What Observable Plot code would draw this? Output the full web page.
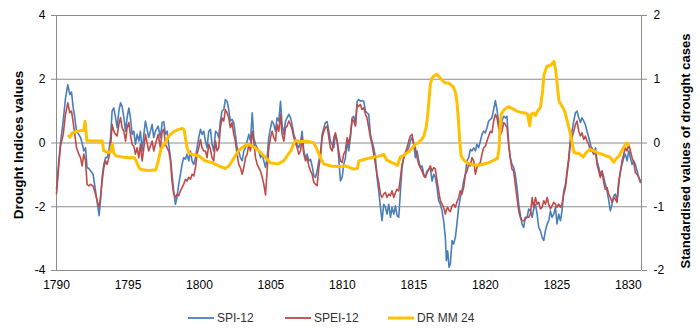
<!DOCTYPE html>
<html><head><meta charset="utf-8">
<script src="https://cdn.jsdelivr.net/npm/d3@7"></script>
<script src="https://cdn.jsdelivr.net/npm/@observablehq/plot@0.6"></script>
<style>
body{margin:0;background:#fff;font-family:"Liberation Sans",Arial,sans-serif;}
#wrap{position:relative;width:700px;height:334px;overflow:hidden;}
#legend{position:absolute;top:310px;left:0;width:700px;height:18px;font-size:12px;color:#333;}
.item{position:absolute;top:0;height:16px;display:flex;align-items:center;}
.item svg{margin-right:3px;}
</style></head><body><div id="wrap"><div id="chart"></div><div id="legend"></div></div>
<script>
const indexYears = [
1790.0,1790.16,1790.28,1790.47,1790.63,1790.79,1790.93,1791.05,1791.17,1791.28,1791.4,1791.56,1791.68,1791.79,1791.91,1792.03,1792.14,1792.26,1792.38,1792.56,1792.73,1792.89,1792.98,1793.08,1793.19,1793.31,1793.43,1793.54,1793.66,1793.78,1793.89,1794.01,1794.13,1794.24,1794.36,1794.48,1794.59,1794.71,1794.83,1794.94,1795.06,1795.17,1795.29,1795.41,1795.52,1795.64,1795.76,1795.87,1795.99,1796.11,
1796.22,1796.45,1796.69,1796.8,1796.92,1797.11,1797.27,1797.39,1797.5,1797.62,1797.74,1797.85,1797.97,1798.08,1798.2,1798.32,1798.43,1798.55,1798.67,1798.78,1798.9,1799.02,1799.13,1799.25,1799.37,1799.48,1799.6,1799.72,1799.83,1799.95,1800.07,1800.18,1800.3,1800.42,1800.53,1800.65,1800.77,1800.88,1801.0,1801.12,1801.23,1801.35,1801.46,1801.58,1801.7,1801.81,1801.93,1802.05,1802.16,1802.28,1802.4,1802.51,1802.63,1802.75,1802.86,
1802.99,1803.1,1803.22,1803.34,1803.45,1803.57,1803.69,1803.8,1803.92,1804.04,1804.15,1804.27,1804.39,1804.5,1804.62,1804.73,1804.85,1804.97,1805.08,1805.2,1805.32,1805.43,1805.55,1805.67,1805.78,1805.9,1806.02,1806.13,1806.25,1806.37,1806.48,1806.6,1806.72,1806.83,1806.95,1807.07,1807.18,1807.3,1807.42,1807.53,1807.65,1807.77,1807.88,1808.0,1808.11,1808.23,1808.35,1808.46,1808.58,1808.7,1808.81,1808.93,1809.05,1809.16,1809.28,1809.4,
1809.51,1809.63,1809.74,1809.86,1809.98,1810.09,1810.21,1810.33,1810.44,1810.56,1810.68,1810.79,1810.91,1811.03,1811.14,1811.26,1811.37,1811.49,1811.61,1811.72,1811.84,1811.96,1812.07,1812.19,1812.31,1812.42,1812.54,1812.66,1812.77,1812.89,1813.01,1813.12,1813.24,1813.36,1813.47,1813.59,1813.71,1813.82,1813.94,1814.06,1814.17,1814.29,1814.4,1814.52,1814.64,1814.75,1814.87,1814.99,1815.1,1815.22,1815.34,1815.45,1815.57,1815.69,1815.8,1815.92,1816.04,1816.15,1816.27,1816.39,1816.5,
1816.62,1816.73,1816.85,1816.97,1817.08,1817.2,1817.27,1817.36,1817.46,1817.55,1817.67,1817.78,1817.9,1818.01,1818.13,1818.25,1818.36,1818.48,1818.6,1818.71,1818.83,1818.95,1819.06,1819.18,1819.3,1819.41,1819.53,1819.65,1819.76,1819.88,1820.0,1820.11,1820.23,1820.35,1820.46,1820.58,1820.7,1820.81,1820.93,1821.05,1821.16,1821.28,1821.4,1821.51,1821.63,1821.74,1821.86,1821.98,1822.09,1822.21,1822.33,1822.44,1822.56,1822.68,1822.79,
1822.92,1823.03,1823.15,1823.27,1823.38,1823.5,1823.62,1823.73,1823.85,1823.97,1824.08,1824.2,1824.32,1824.43,1824.55,1824.66,1824.78,1824.9,1825.01,1825.13,1825.25,1825.36,1825.48,1825.6,1825.71,1825.83,1825.95,1826.06,1826.18,1826.3,1826.41,1826.53,1826.65,1826.76,1826.88,1826.99,1827.11,1827.23,1827.35,1827.46,1827.58,1827.7,1827.81,1827.93,1828.04,1828.16,1828.28,1828.39,1828.51,1828.63,1828.74,1828.86,1828.98,1829.09,1829.21,1829.33,1829.44,1829.56,1829.68,1829.79,1829.91,1830.03,1830.14,1830.26,1830.38,1830.49,1830.61,1830.73,1830.84
];
const spi12 = [
-1.45,-0.56,0,0.7,1.4,1.83,1.52,1.6,1.1,0.8,0.37,0.27,0.17,0,-0.25,-0.15,-0.77,-0.8,-0.87,-0.98,-1.5,-2.0,-2.28,-1.8,-1.08,-0.67,-0.46,-0.46,-0.25,0.17,1.0,1.1,0.8,0.48,1.0,1.26,1.15,0.8,0.37,0.8,1.1,0.8,0.27,0.37,-0.04,0.27,0.06,0.37,-0.25,0.27,
0.69,0.17,0.58,0.17,0.37,0.53,0.17,0.64,0.67,0.27,0.37,-0.04,-0.46,-0.98,-1.5,-1.92,-1.71,-1.29,-0.98,-0.67,-0.46,-0.51,-0.35,-0.56,-0.25,-0.56,-0.67,-0.46,-0.15,0.17,0.43,0.27,0.37,0.06,-0.15,0.37,0.43,-0.04,-0.25,0.37,0.32,0.17,0.69,1.0,1.05,1.36,1.31,1.05,0.69,0.74,0.64,0.27,-0.15,-0.25,-0.46,
-0.56,-0.25,-0.15,0.06,0.27,0.06,0.95,0.17,-0.04,-0.15,-0.25,-0.46,-0.35,-0.56,-0.77,-0.46,0.17,0.48,0.69,0.58,0.37,0.79,0.69,1.31,0.58,0.27,0.69,0.79,0.9,0.79,0.58,0.27,0.11,-0.04,-0.15,0.01,0.37,-0.25,-0.46,-0.35,-0.56,-0.51,-0.72,-1.03,-1.08,-0.88,-0.56,-0.35,0.27,0.48,0.64,0.67,0.37,0.06,-0.04,-0.15,
0.27,0.06,-0.46,-1.19,-1.08,-0.67,-0.46,0.06,-0.25,0.17,0.79,0.84,0.58,1.31,1.36,1.31,1.33,1.31,1.0,0.95,0.9,0.27,0.06,-0.15,-0.46,-1.08,-1.5,-2.02,-2.44,-1.92,-2.02,-2.23,-1.92,-2.33,-2.02,-2.23,-1.97,-2.28,-2.33,-1.5,-0.77,-0.46,-0.35,-0.25,-0.15,0.06,0.17,-0.04,-0.46,-0.25,-0.56,-0.77,-0.72,-0.98,-1.08,-0.88,-0.83,-0.77,-1.19,-0.98,-1.08,
-1.4,-1.81,-1.92,-2.13,-2.44,-2.96,-3.69,-3.38,-3.9,-3.79,-3.06,-3.17,-2.96,-2.54,-2.02,-1.71,-1.5,-1.19,-0.98,-0.56,-0.46,-0.2,-0.25,-0.15,-0.25,-0.04,-0.15,0.06,0.27,0.37,0.32,0.48,0.69,0.74,0.79,1.05,1.33,1.05,0.64,0.43,0.69,0.84,0.79,0.84,-0.04,-0.46,-0.67,-0.77,-0.98,-1.4,-1.92,-2.23,-2.54,-2.65,-2.33,
-2.33,-2.07,-2.13,-2.33,-2.07,-1.92,-2.23,-2.65,-2.75,-2.96,-3.06,-2.75,-2.54,-2.44,-2.13,-2.33,-2.23,-2.02,-2.54,-2.23,-2.44,-2.13,-1.5,-1.29,-0.88,-0.46,0.17,0.37,0.69,0.95,1.0,0.79,0.64,0.79,0.69,0.58,0.37,0.17,-0.04,-0.25,-0.35,-0.15,-0.56,-0.77,-0.98,-0.88,-1.08,-1.29,-1.5,-1.81,-2.13,-1.92,-1.66,-1.6,-1.81,-1.29,-0.88,-0.67,-0.46,-0.35,-0.56,-0.25,-0.46,-0.67,-0.56,-0.67,-0.88,-1.08,-1.24
];
const spei12 = [
-1.6,-0.7,-0.1,0.27,0.9,1.26,0.95,1.0,0.64,0.27,-0.15,-0.35,-0.46,-0.72,-0.35,-0.56,-1.3,-1.35,-1.3,-1.35,-1.6,-1.9,-2.0,-1.7,-1.2,-0.77,-0.56,-0.67,-0.46,-0.15,0.58,0.37,0.27,0.22,0.58,0.8,0.48,0.37,0.06,0.48,0.64,0.27,-0.04,-0.1,-0.35,-0.15,-0.46,-0.04,-0.56,-0.15,
0.27,-0.25,0.06,-0.25,-0.04,0.27,-0.15,0.37,0.43,-0.04,-0.15,-0.25,-0.56,-1.19,-1.6,-1.71,-1.6,-1.65,-1.5,-1.4,-1.29,-1.14,-1.19,-1.08,-1.14,-0.98,-1.03,-0.77,-0.35,-0.15,0.11,-0.15,-0.25,-0.25,-0.46,-0.04,-0.2,-0.46,-0.56,0.06,-0.25,-0.15,0.48,0.79,0.69,1.05,0.95,0.79,0.48,0.64,0.27,0.06,-0.35,-0.67,-0.77,
-0.98,-0.77,-0.46,-0.35,-0.04,-0.25,0.37,0.06,-0.46,-0.67,-0.77,-0.88,-1.08,-1.29,-1.63,-0.88,-0.15,0.17,0.37,0.17,0.06,0.58,0.37,0.9,0.27,0.06,0.48,0.53,0.69,0.58,0.43,0.17,0.01,-0.15,-0.35,-0.25,0.17,-0.35,-0.56,-0.46,-0.72,-0.88,-0.98,-1.24,-1.29,-1.34,-0.77,-0.46,0.17,0.37,0.48,0.53,0.17,-0.15,-0.25,0.17,
0.32,0.06,-0.25,-0.56,-0.61,-0.35,-0.25,0.17,-0.04,0.27,0.74,0.69,0.53,1.21,1.15,1.21,1.05,1.1,0.9,0.79,0.48,0.17,-0.04,-0.35,-0.67,-0.98,-1.24,-1.6,-1.71,-1.6,-1.55,-1.71,-1.6,-1.65,-1.5,-1.71,-1.55,-1.45,-1.5,-1.08,-0.67,-0.46,-0.3,-0.15,0.06,0.22,0.27,-0.04,-0.15,-0.46,-0.67,-0.77,-0.88,-1.03,-1.08,-0.93,-0.83,-0.72,-0.88,-0.77,-0.82,
-1.19,-1.5,-1.81,-1.92,-2.02,-2.23,-2.1,-2.02,-2.12,-2.15,-1.97,-1.92,-2.02,-1.86,-1.71,-1.5,-1.6,-1.4,-0.98,-0.88,-0.67,-0.72,-0.46,-0.56,-0.98,-0.77,-0.67,-0.61,-0.35,-0.15,-0.1,0.06,0.22,0.37,0.32,0.69,0.9,0.79,0.48,0.27,0.37,0.64,0.58,0.48,-0.04,-0.46,-0.82,-0.88,-1.29,-1.71,-2.13,-2.33,-2.44,-2.44,-2.38,
-2.33,-2.33,-2.23,-1.71,-2.02,-1.71,-1.92,-1.86,-2.07,-2.02,-1.81,-1.92,-1.71,-1.92,-2.07,-1.97,-1.86,-1.92,-2.02,-1.92,-2.02,-1.92,-1.6,-1.4,-0.98,-0.56,0.01,0.17,0.37,0.58,0.69,0.37,0.22,0.32,0.11,0.22,0.06,-0.04,-0.25,-0.15,-0.35,-0.25,-0.67,-0.88,-1.08,-0.88,-1.24,-1.45,-1.4,-1.6,-1.71,-1.86,-1.71,-1.76,-1.86,-1.19,-0.93,-0.56,-0.35,-0.15,-0.25,-0.04,-0.25,-0.46,-0.61,-0.93,-0.98,-1.08,-1.19
];
const drmmYears = [
1790.86,1790.95,1791.1,1791.35,1791.6,1791.9,1792.0,1792.12,1792.4,1792.9,1793.2,1793.3,1793.6,1793.78,1793.9,1794.0,1794.15,1794.6,1795.1,1795.45,1795.6,1795.8,1796.0,1796.5,1796.95,1797.1,1797.3,1797.6,1797.9,1798.2,1798.5,1798.8,1798.92,1799.02,1799.13,1799.25,1799.5,1799.95,1800.4,1800.9,1801.35,1801.8,1802.05,1802.3,1802.5,1802.75,1803.0,1803.35,1803.7,1804.05,1804.5,1804.95,1805.45,1805.9,1806.2,1806.4,1806.6,1806.75,1807.1,1807.55,1808.0,1808.23,1808.46,1808.7,1809.2,1809.7,1810.2,1810.8,1811.05,1811.15,1811.5,1812.0,1812.5,1812.9,1813.1,1813.5,1813.85,1814.05,1814.3,1814.7,1815.1,1815.3,1815.55,1815.7,1815.85,1815.95,1816.05,1816.15,1816.27,1816.45,1816.62,1816.8,1817.0,1817.2,1817.45,1817.75,1817.9,1818.0,1818.1,1818.2,1818.3,1818.5,1818.8,1819.1,1819.5,1819.9,1820.2,1820.5,1820.85,1820.95,1821.0,1821.1,1821.3,1821.6,1821.9,1822.2,1822.5,1822.8,1822.95,1823.1,1823.2,1823.35,1823.5,1823.65,1823.85,1824.0,1824.1,1824.3,1824.55,1824.8,1824.93,1825.05,1825.15,1825.35,1825.55,1825.95,1826.2,1826.4,1826.6,1826.85,1827.05,1827.3,1827.55,1827.8,1828.1,1828.4,1828.7,1828.98,1829.1,1829.35,1829.6,1829.8,1829.92,1830.02
];
const drmm24 = [
0.11,0.09,0.16,0.18,0.19,0.2,0.34,0.04,0.03,0.03,0.03,-0.12,-0.15,-0.14,-0.02,-0.15,-0.2,-0.22,-0.23,-0.23,-0.3,-0.4,-0.42,-0.43,-0.42,-0.3,-0.1,0.0,0.12,0.18,0.21,0.23,0.21,0.08,-0.07,-0.15,-0.18,-0.2,-0.28,-0.31,-0.36,-0.4,-0.36,-0.28,-0.2,-0.12,-0.07,-0.02,-0.05,-0.1,-0.2,-0.31,-0.33,-0.28,-0.18,-0.12,0.0,0.04,0.02,0.03,0.0,-0.1,-0.23,-0.33,-0.36,-0.37,-0.36,-0.41,-0.4,-0.28,-0.26,-0.23,-0.21,-0.18,-0.27,-0.31,-0.35,-0.22,-0.19,-0.125,-0.02,0.0,0.06,0.11,0.24,0.4,0.66,0.92,1.02,1.06,1.08,1.03,0.98,0.94,0.94,0.88,0.8,0.66,0.4,0.05,-0.2,-0.27,-0.32,-0.34,-0.35,-0.33,-0.31,-0.28,-0.24,-0.1,0.14,0.45,0.52,0.57,0.54,0.5,0.48,0.47,0.45,0.27,0.45,0.47,0.43,0.5,0.56,0.81,1.07,1.2,1.22,1.28,1.12,0.86,0.66,0.58,0.5,0.14,-0.15,-0.16,-0.17,-0.22,-0.15,-0.1,-0.12,-0.15,-0.17,-0.2,-0.22,-0.3,-0.26,-0.2,-0.1,-0.02,0.0,-0.03
];
const xTicks = [1790,1795,1800,1805,1810,1815,1820,1825,1830];
const leftTicks = [-4,-2,0,2,4];
const rightTicks = [-2,-1,0,1,2];
const seriesNames = ["SPI-12","SPEI-12","DR MM 24"];
const seriesColors = ["#4a7ebb","#be4b48","#ffc000"];
const axisTitles = ["Drought Indices values","Standardised values of drought cases"];

const idx = indexYears.map((t,i)=>({t, spi: spi12[i], spei: spei12[i]}));
const dr = drmmYears.map((t,i)=>({t, v: drmm24[i]}));

const grid = "#8c8c8c";
const chart = Plot.plot({
  width: 700, height: 300,
  marginTop: 15, marginBottom: 30, marginLeft: 56, marginRight: 59,
  style: {fontFamily: "'Liberation Sans', Arial, sans-serif", fontSize: "12px", color: "#000", background: "#fff"},
  x: {domain: [1790, 1830.92], axis: null},
  y: {domain: [-4, 4], axis: null},
  marks: [
    Plot.ruleY(leftTicks, {stroke: grid, strokeWidth: 1}),
    Plot.ruleX([1790, 1830.92], {stroke: grid, strokeWidth: 1}),
    Plot.line(idx, {x: "t", y: "spi", stroke: seriesColors[0], strokeWidth: 1.6, strokeLinejoin: "round"}),
    Plot.line(idx, {x: "t", y: "spei", stroke: seriesColors[1], strokeWidth: 1.6, strokeLinejoin: "round"}),
    Plot.line(dr, {x: "t", y: d => d.v * 2, stroke: seriesColors[2], strokeWidth: 3, strokeLinejoin: "round"}),
    Plot.axisY(leftTicks, {anchor: "left", tickSize: 5, tickPadding: 6, tickFormat: d => String(d), stroke: grid, fill: "#000", label: null, fontSize: 12}),
    Plot.axisY(rightTicks.map(d => d * 2), {anchor: "right", tickSize: 5, tickPadding: 7, tickFormat: d => String(d / 2), stroke: grid, fill: "#000", label: null, fontSize: 12}),
    Plot.axisX(xTicks, {anchor: "bottom", tickSize: 0, tickPadding: 10, tickFormat: d => String(d), fill: "#000", label: null, fontSize: 12}),
    Plot.text([axisTitles[0]], {text: d => d, frameAnchor: "left", textAnchor: "middle", rotate: -90, dx: -38, dy: 2, fontWeight: "bold", fontSize: 13.5, fill: "#000"}),
    Plot.text([axisTitles[1]], {text: d => d, frameAnchor: "right", textAnchor: "middle", rotate: -90, dx: 44, dy: 8, fontWeight: "bold", fontSize: 13, fill: "#000"})
  ]
});
document.getElementById("chart").appendChild(chart);

const legendPos = [188, 285, 388];
const legend = document.getElementById("legend");
seriesNames.forEach((name, i) => {
  const item = document.createElement("div");
  item.className = "item";
  item.style.left = legendPos[i] + "px";
  const w = i === 2 ? 3 : 1.8;
  item.innerHTML = `<svg width="26" height="8"><line x1="0" y1="4" x2="26" y2="4" stroke="${seriesColors[i]}" stroke-width="${w}"/></svg><span>${name}</span>`;
  legend.appendChild(item);
});
</script></body></html>
